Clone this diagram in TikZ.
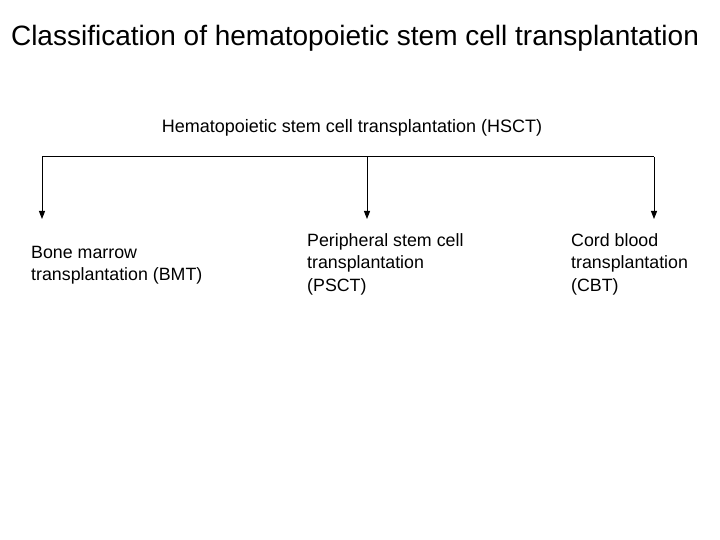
\documentclass[tikz,border=0pt]{standalone}
\usepackage{fontspec}
\setmainfont{Liberation Sans}
\usetikzlibrary{arrows.meta}
\begin{document}
\begin{tikzpicture}[x=1pt,y=-1pt,
  lbl/.style={align=left,anchor=north west,inner sep=0pt,font=\fontsize{17.8}{22.5}\selectfont},
  conn/.style={line width=1pt,-{Triangle[length=8pt,width=6pt]}}]
\useasboundingbox (0,0) rectangle (720,540);
\node[font=\fontsize{28}{30}\selectfont] (title) at (355,38) {Classification of hematopoietic stem cell transplantation};
\node[font=\fontsize{18}{20}\selectfont] (root) at (352,128) {Hematopoietic stem cell transplantation (HSCT)};
\coordinate (l) at (42,157);
\coordinate (m) at (367,157);
\coordinate (r) at (654,157);
\coordinate (lb) at (42,219);
\coordinate (mb) at (367,219);
\coordinate (rb) at (654,219);
\draw[line width=1pt] (l) -- (r);
\draw[conn] (l) -- (lb);
\draw[conn] (m) -- (mb);
\draw[conn] (r) -- (rb);
\node[lbl] (bmt) at (31,246) {Bone marrow\\transplantation (BMT)};
\node[lbl] (psct) at (307,233) {Peripheral stem cell\\transplantation\\(PSCT)};
\node[lbl] (cbt) at (571,233) {Cord blood\\transplantation\\(CBT)};
\end{tikzpicture}
\end{document}
